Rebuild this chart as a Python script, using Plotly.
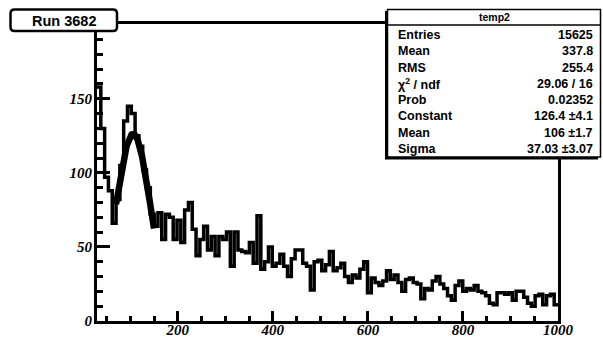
import numpy as np
import plotly.graph_objects as go

# ---------------- data ----------------
x_lo, x_hi = 30, 1000
counts = [158, 130, 97, 88, 66, 82, 105, 135, 145, 140, 125, 118, 102, 90, 72,
          64, 73, 55, 72, 70, 55, 68,
          53, 75, 80, 62, 44, 55, 64, 48, 57, 44, 57,
          55, 60, 37, 60, 48, 47, 46, 53, 39, 71,
          35, 40, 50, 37, 39, 45, 37, 30, 42,
          48, 48, 39, 37, 21, 40, 41, 34, 38, 47,
          34, 36, 39, 30, 26, 31, 29, 35, 40, 19,
          29, 26, 24, 27, 34, 28, 31, 26, 20,
          28, 29, 26, 25, 15, 22, 21, 27, 30,
          25, 22, 17, 14, 24, 27, 20, 22,
          21, 24, 20, 19, 17, 12, 11, 19, 19,
          18, 19, 14, 20, 20, 16, 12, 10,
          17, 18, 11, 17, 18, 11]
fit_const, fit_mean, fit_sigma = 126.4, 106.0, 37.03
fit_lo, fit_hi = 70, 150
x_ticks = [200, 400, 600, 800, 1000]
y_ticks = [0, 50, 100, 150]
y_max = 200.5
stat_title = "temp2"
stat_labels = ["Entries", "Mean", "RMS", "χ<sup>2</sup> / ndf", "Prob",
               "Constant", "Mean", "Sigma"]
stat_values = ["15625", "337.8", "255.4", "29.06 / 16", "0.02352",
               "126.4 \u00b14.1", "106 \u00b11.7", "37.03 \u00b13.07"]
run_label = "Run 3682"

# ---------------- geometry ----------------
W, H = 603, 337
L, R, T, B = 97, 45, 24, 16
PW, PH = W - L - R, H - T - B


def px(x):
    return (x - L) / PW


def py(y):
    return (H - B - y) / PH


edges = np.linspace(x_lo, x_hi, len(counts) + 1)
hx = list(edges)
hy = list(counts) + [counts[-1]]

fx = np.linspace(fit_lo, fit_hi, 200)
fy = fit_const * np.exp(-0.5 * ((fx - fit_mean) / fit_sigma) ** 2)

fig = go.Figure()
fig.add_trace(go.Scatter(x=hx, y=hy, mode="lines", line=dict(color="black", width=3.5, shape="hv"),
                         hoverinfo="skip"))
fig.add_trace(go.Scatter(x=fx, y=fy, mode="lines", line=dict(color="black", width=6.5),
                         hoverinfo="skip"))

tickfont = dict(family="Liberation Serif", size=15, color="black", style="italic", weight="bold")

fig.update_layout(
    width=W, height=H,
    margin=dict(l=L, r=R, t=T, b=B, pad=0),
    paper_bgcolor="white", plot_bgcolor="white",
    showlegend=False,
    xaxis=dict(range=[x_lo, x_hi], tickmode="array", tickvals=x_ticks,
               ticktext=[str(v) for v in x_ticks],
               ticks="inside", ticklen=10, tickwidth=2.5, tickcolor="black",
               minor=dict(tickmode="linear", tick0=0, dtick=50, ticks="inside",
                          ticklen=5, tickwidth=2.5, tickcolor="black"),
               showline=True, linewidth=3, linecolor="black", mirror=True,
               showgrid=False, zeroline=False, tickfont=tickfont, automargin=False,
               ticklabelstandoff=-7),
    yaxis=dict(range=[0, y_max], tickmode="array", tickvals=y_ticks,
               ticktext=[str(v) for v in y_ticks],
               ticks="inside", ticklen=13, tickwidth=2.5, tickcolor="black",
               minor=dict(tickmode="linear", tick0=0, dtick=10, ticks="inside",
                          ticklen=6, tickwidth=2.5, tickcolor="black"),
               showline=True, linewidth=3, linecolor="black", mirror=True,
               showgrid=False, zeroline=False, tickfont=tickfont, automargin=False,
               ticklabelstandoff=-1),
)

shapes = []
shapes.append(dict(type="rect", xref="paper", yref="paper",
                   x0=px(385), x1=px(598), y0=py(159.5), y1=py(11),
                   fillcolor="black", line=dict(width=0), layer="above"))
shapes.append(dict(type="rect", xref="paper", yref="paper",
                   x0=px(387.5), x1=px(600.5), y0=py(157), y1=py(9.5),
                   fillcolor="white", line=dict(color="black", width=1.5), layer="above"))
shapes.append(dict(type="line", xref="paper", yref="paper",
                   x0=px(387.5), x1=px(600.5), y0=py(25), y1=py(25),
                   line=dict(color="black", width=1.5), layer="above"))

x0b, x1b, y0b, y1b, r = 10.5, 117, 9.5, 31, 4
pts = [
    f"M {px(x0b + r)},{py(y0b)}",
    f"L {px(x1b - r)},{py(y0b)}",
    f"Q {px(x1b)},{py(y0b)} {px(x1b)},{py(y0b + r)}",
    f"L {px(x1b)},{py(y1b - r)}",
    f"Q {px(x1b)},{py(y1b)} {px(x1b - r)},{py(y1b)}",
    f"L {px(x0b + r)},{py(y1b)}",
    f"Q {px(x0b)},{py(y1b)} {px(x0b)},{py(y1b - r)}",
    f"L {px(x0b)},{py(y0b + r)}",
    f"Q {px(x0b)},{py(y0b)} {px(x0b + r)},{py(y0b)} Z",
]
shapes.append(dict(type="path", xref="paper", yref="paper", path=" ".join(pts),
                   fillcolor="white", line=dict(color="black", width=2.5), layer="above"))
fig.update_layout(shapes=shapes)

annots = []
sfont = dict(family="Liberation Sans", size=12.5, color="black", weight="bold")
annots.append(dict(xref="paper", yref="paper", x=px(494), y=py(17), text=stat_title,
                   showarrow=False, xanchor="center", yanchor="middle",
                   font=dict(family="Liberation Sans", size=10.5, color="black", weight="bold")))
row_y = [35, 51, 67.5, 83.5, 100, 116.5, 133, 149]
for lab, val, yy in zip(stat_labels, stat_values, row_y):
    annots.append(dict(xref="paper", yref="paper", x=px(396), y=py(yy), text=lab,
                       showarrow=False, xanchor="left", yanchor="middle", font=sfont))
    annots.append(dict(xref="paper", yref="paper", x=px(595), y=py(yy), text=val,
                       showarrow=False, xanchor="right", yanchor="middle", font=sfont))
annots.append(dict(xref="paper", yref="paper", x=px(64), y=py(20.5), text=run_label,
                   showarrow=False, xanchor="center", yanchor="middle",
                   font=dict(family="Liberation Sans", size=14.5, color="black", weight="bold")))
fig.update_layout(annotations=annots)

fig.write_html("out.html")
